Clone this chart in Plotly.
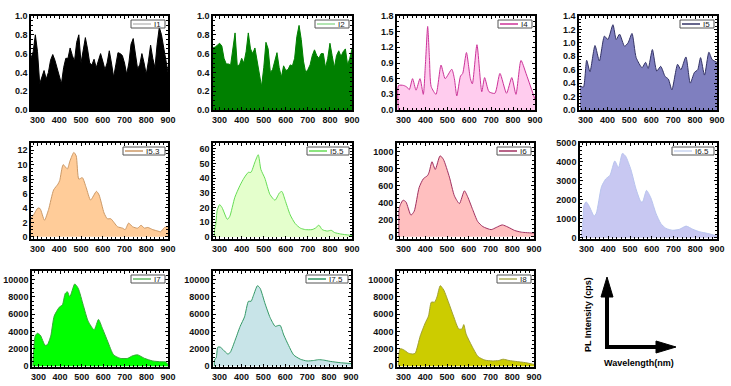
import plotly.graph_objects as go

W, H = 731, 386

# ---- data (wavelength in nm, PL intensity) ----
wl_grid = list(range(270, 901, 10))

pl_i1 = [0.55, 0.62, 0.80, 0.62, 0.28, 0.35, 0.42, 0.33, 0.40, 0.53,
         0.59, 0.53, 0.45, 0.35, 0.28, 0.45, 0.55, 0.55, 0.66, 0.58,
         0.52, 0.72, 0.80, 0.50, 0.62, 0.77, 0.65, 0.50, 0.48, 0.54,
         0.45, 0.52, 0.60, 0.52, 0.43, 0.50, 0.63, 0.50, 0.35, 0.48,
         0.61, 0.60, 0.58, 0.50, 0.38, 0.50, 0.70, 0.76, 0.60, 0.44,
         0.48, 0.60, 0.50, 0.38, 0.52, 0.69, 0.55, 0.45, 0.70, 0.88,
         0.80, 0.65, 0.50, 0.40]

pl_i2 = [0.66, 0.67, 0.69, 0.71, 0.68, 0.55, 0.49, 0.49, 0.48, 0.65,
         0.82, 0.47, 0.48, 0.55, 0.50, 0.62, 0.82, 0.65, 0.60, 0.66,
         0.52, 0.35, 0.25, 0.45, 0.72, 0.65, 0.40, 0.43, 0.52, 0.61,
         0.45, 0.35, 0.47, 0.42, 0.43, 0.48, 0.47, 0.55, 0.78, 0.90,
         0.75, 0.52, 0.40, 0.43, 0.48, 0.58, 0.64, 0.58, 0.55, 0.60,
         0.60, 0.45, 0.55, 0.71, 0.58, 0.45, 0.58, 0.63, 0.57, 0.62,
         0.65, 0.48, 0.55, 0.65]

wl_i4 = [276, 277, 300, 315, 326, 341, 357, 375, 390, 400, 410, 418, 426, 448, 471, 490, 520, 532,
         543, 560, 570, 587, 605, 614, 635, 657, 670, 690, 717, 740, 770, 794, 813, 836, 859, 900]
pl_i4 = [0, 0.47, 0.47, 0.44, 0.39, 0.60, 0.38, 0.60, 0.30, 0.90, 1.60, 1.00, 0.45, 0.30, 0.86, 0.60, 0.78, 0.60,
         0.27, 0.65, 0.70, 1.10, 0.60, 0.50, 1.25, 0.35, 0.62, 0.35, 0.32, 0.70, 0.32, 0.62, 0.30, 0.95, 0.70, 0.20]

wl_i5 = [275, 290, 305, 320, 343, 363, 386, 402, 425, 440, 455, 478, 494, 512, 531, 558, 574, 586,
         605, 625, 643, 663, 678, 694, 720, 735, 758, 778, 797, 812, 825, 843, 863, 878, 900]
pl_i5 = [0.36, 0.34, 0.74, 0.57, 0.96, 0.73, 1.10, 1.05, 1.27, 1.05, 1.13, 0.95, 1.00, 1.14, 0.78, 0.63, 0.71, 0.62,
         0.90, 0.58, 0.65, 0.50, 0.46, 0.30, 0.68, 0.60, 0.79, 0.40, 0.56, 0.60, 0.78, 0.52, 0.86, 0.75, 0.71]

wl_i53 = [270, 281, 302, 312, 332, 351, 374, 394, 402, 418, 437, 449, 467, 478, 490, 506, 524, 544, 571,
          583, 606, 621, 637, 668, 691, 703, 719, 737, 760, 776, 792, 807, 830, 853, 866, 884, 900]
pl_i53 = [2.6, 3.0, 4.0, 3.9, 2.3, 3.8, 6.5, 7.3, 7.8, 10.0, 9.4, 10.5, 11.7, 11.2, 8.0, 8.2, 6.8, 5.1, 6.3,
          5.8, 3.3, 2.5, 2.5, 1.4, 1.2, 1.0, 1.9, 1.4, 1.2, 1.6, 1.2, 1.3, 1.0, 0.8, 0.7, 1.3, 1.4]

wl_i55 = [276, 277, 282, 289, 300, 311, 335, 346, 369, 392, 410, 430, 442, 460, 475, 487, 505, 528,
          551, 571, 582, 597, 620, 643, 666, 689, 719, 734, 750, 765, 788, 806, 821, 849, 900]
pl_i55 = [0, 5, 8, 18, 22, 20, 12, 14, 27, 35, 40, 44, 44, 51, 56, 46, 40, 29,
          25, 30, 31, 25, 15, 9, 6, 5, 5, 6, 8, 5, 4, 4.5, 3, 2, 1]

wl_i6 = [279, 280, 286, 298, 311, 334, 349, 372, 391, 411, 418, 431, 446, 468, 483, 511,
         534, 557, 580, 595, 618, 641, 665, 703, 726, 754, 780, 811, 842, 895, 900]
pl_i6 = [0, 330, 380, 430, 410, 255, 300, 580, 680, 720, 760, 880, 790, 950, 910, 700,
         480, 390, 540, 470, 320, 180, 120, 85, 110, 140, 115, 75, 55, 45, 45]

wl_i65 = [275, 280, 288, 298, 311, 335, 345, 369, 388, 408, 430, 447, 465, 480, 504,
          527, 550, 558, 576, 596, 619, 642, 665, 696, 727, 758, 789, 820, 858, 900]
pl_i65 = [400, 400, 1700, 1900, 1700, 1150, 1300, 2700, 3100, 3300, 4050, 3700, 4450, 4300, 3600,
          2600, 1900, 1900, 2500, 2100, 1300, 750, 500, 400, 450, 620, 450, 320, 230, 100]

wl_i7 = [274, 275, 285, 295, 308, 331, 342, 357, 373, 396, 411, 424, 434, 445, 468, 484,
         508, 530, 558, 578, 594, 620, 648, 679, 713, 736, 760, 791, 829, 868, 888, 900]
pl_i7 = [0, 800, 3500, 3800, 3600, 2400, 2500, 3500, 5800, 6800, 7100, 8400, 8600, 8000, 9500, 9000,
         7000, 5200, 4200, 5400, 4500, 2900, 1300, 900, 900, 1200, 1300, 900, 600, 500, 500, 200]

wl_i75 = [276, 277, 285, 292, 303, 338, 349, 371, 394, 414, 432, 444, 455, 473, 485, 508,
          531, 554, 568, 577, 593, 615, 638, 669, 699, 729, 752, 775, 805, 851, 900]
pl_i75 = [0, 700, 1000, 2200, 2200, 1400, 1600, 3000, 4600, 5700, 7500, 7500, 8200, 9300, 9000, 7200,
          5600, 4600, 4700, 4700, 3600, 2400, 1300, 800, 600, 650, 750, 700, 550, 400, 300]

wl_i8 = [276, 277, 285, 300, 323, 343, 354, 377, 400, 415, 428, 443, 454, 469, 485, 508,
         531, 554, 569, 577, 588, 615, 643, 674, 708, 738, 758, 785, 815, 862, 900]
pl_i8 = [0, 1000, 2000, 1900, 1500, 1400, 1500, 3500, 5000, 5800, 7400, 7400, 8000, 9300, 8800, 7300,
         5700, 4300, 4300, 4800, 3700, 2300, 1100, 700, 600, 650, 800, 650, 550, 400, 200]

labels = ["I1", "I2", "I4", "I5", "I5.3", "I5.5", "I6", "I6.5", "I7", "I7.5", "I8"]
xs = [wl_grid, wl_grid, wl_i4, wl_i5, wl_i53, wl_i55, wl_i6, wl_i65, wl_i7, wl_i75, wl_i8]
ys = [pl_i1, pl_i2, pl_i4, pl_i5, pl_i53, pl_i55, pl_i6, pl_i65, pl_i7, pl_i75, pl_i8]

# ---- styling ----
fills = ["#000000", "#008000", "#FFCCEE", "#7F7FBF", "#FFCC99", "#E4FFCC",
         "#FFBFBF", "#C8C8F2", "#00FF00", "#C8E4E8", "#CCCC00"]
lines = ["#000000", "#008000", "#CC3399", "#333366", "#CC9966", "#66DD55",
         "#A03060", "#B8C4EE", "#33AA33", "#339966", "#A0A030"]
legend_lines = ["#C0C0C0", "#99DD99", "#CC3399", "#333366", "#CC9966", "#66DD55",
                "#A03060", "#C8D4F0", "#66BB66", "#339966", "#B0B060"]
shapes_line = ["linear", "linear", "spline", "spline", "spline", "spline",
               "spline", "spline", "spline", "spline", "spline"]

# plot boxes in pixels: left, right, top, bottom
boxes = [(31, 168, 16, 110), (213, 352, 16, 110), (397, 535, 16, 110), (579, 717, 16, 110),
         (31, 168, 143, 239), (213, 352, 143, 239), (397, 534, 143, 239), (580, 717, 143, 239),
         (32, 168, 271, 367), (213, 351, 271, 367), (397, 534, 271, 367)]
y_ranges = [[0, 1.0], [0, 1.0], [0, 1.8], [0, 1.4], [-0.3, 13], [-1.4, 64], [-25, 1100],
            [-60, 5000], [-100, 11000], [-100, 11000], [-100, 11000]]
y_dticks = [0.2, 0.2, 0.3, 0.2, 2, 10, 200, 1000, 2000, 2000, 2000]
y_formats = [".1f", ".1f", ".1f", ".1f", "d", "d", "d", "d", "d", "d", "d"]

tick_font = dict(family="Liberation Sans, Arial", size=9, color="#111111", weight="bold")
label_font = dict(family="Liberation Sans, Arial", size=9, color="black", weight="bold")

fig = go.Figure()
layout = {}
shapes = []
annotations = []


def px(x):
    return x / W


def py(y):
    return 1 - y / H


for i, lab in enumerate(labels):
    n = "" if i == 0 else str(i + 1)
    l, r, t, b = boxes[i]
    fig.add_trace(go.Scatter(
        x=xs[i], y=ys[i], xaxis="x" + n, yaxis="y" + n,
        mode="lines", fill="tozeroy", fillcolor=fills[i],
        line=dict(color=lines[i], width=1, shape=shapes_line[i], smoothing=0.6),
        showlegend=False, hoverinfo="skip",
    ))
    common = dict(showline=True, linecolor="black", linewidth=1.6, mirror="allticks",
                  ticks="inside", ticklen=3, tickcolor="black", showgrid=False,
                  zeroline=False, tickfont=tick_font, automargin=False,
                  minor=dict(ticks="inside", ticklen=2, tickcolor="black"))
    layout["xaxis" + n] = dict(domain=[px(l), px(r)], anchor="y" + n, range=[270, 900],
                               dtick=100, tick0=300, **common)
    layout["yaxis" + n] = dict(domain=[py(b), py(t)], anchor="x" + n, range=y_ranges[i],
                               dtick=y_dticks[i], tick0=0, tickformat=y_formats[i], **common)

    # legend box in the upper right corner of each panel
    w = 26 + 4 * len(lab)
    lr = r - 3
    ll = lr - w
    lt = t + 4
    lb = lt + 8
    shapes.append(dict(type="rect", xref="paper", yref="paper",
                       x0=px(ll), x1=px(lr), y0=py(lb), y1=py(lt),
                       line=dict(color="#555555", width=1), fillcolor="white"))
    shapes.append(dict(type="line", xref="paper", yref="paper",
                       x0=px(ll + 2), x1=px(ll + 20), y0=py(lt + 4), y1=py(lt + 4),
                       line=dict(color=legend_lines[i], width=1.5)))
    annotations.append(dict(xref="paper", yref="paper", x=px(ll + 21), y=py(lt + 4),
                            xanchor="left", yanchor="middle", showarrow=False, text=lab,
                            font=dict(family="Liberation Sans, Arial", size=8, color="#222222")))

# axis-explanation panel
shapes.append(dict(type="line", xref="paper", yref="paper", x0=px(607), x1=px(607),
                   y0=py(349), y1=py(294), line=dict(color="black", width=4)))
shapes.append(dict(type="line", xref="paper", yref="paper", x0=px(605), x1=px(660),
                   y0=py(347), y1=py(347), line=dict(color="black", width=4)))
shapes.append(dict(type="path", xref="paper", yref="paper",
                   path=f"M {px(601)} {py(297)} L {px(613)} {py(297)} L {px(607)} {py(277)} Z",
                   fillcolor="black", line=dict(color="black", width=1)))
shapes.append(dict(type="path", xref="paper", yref="paper",
                   path=f"M {px(656)} {py(341)} L {px(656)} {py(353)} L {px(676)} {py(347)} Z",
                   fillcolor="black", line=dict(color="black", width=1)))
annotations.append(dict(xref="paper", yref="paper", x=px(588), y=py(315), showarrow=False,
                        xanchor="center", yanchor="middle",
                        text="PL Intensity (cps)", textangle=-90, font=label_font))
annotations.append(dict(xref="paper", yref="paper", x=px(639), y=py(363), showarrow=False,
                        xanchor="center", yanchor="middle",
                        text="Wavelength(nm)", font=label_font))

fig.update_layout(
    width=W, height=H,
    margin=dict(l=0, r=0, t=0, b=0),
    paper_bgcolor="white", plot_bgcolor="white",
    shapes=shapes, annotations=annotations,
    **layout
)

# the page body has a default 8px margin; remove it so the figure fills the window
fig.write_html("out.html", config={"displayModeBar": False},
               post_script="document.body.style.margin='0';")
